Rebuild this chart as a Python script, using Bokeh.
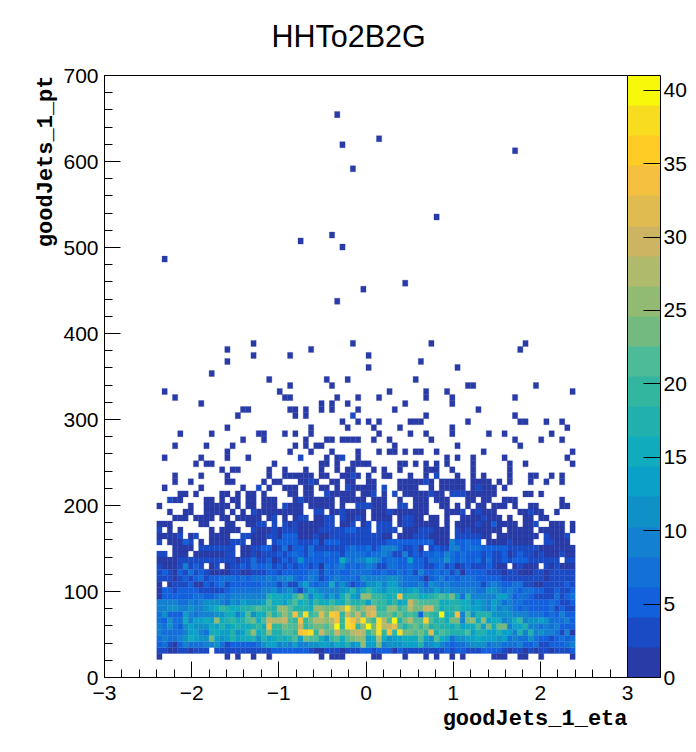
from bokeh.plotting import figure
from bokeh.models import (ColumnDataSource, LinearColorMapper, ColorBar, FixedTicker, Range1d, Title)
from bokeh.transform import transform
from bokeh.embed import file_html
from bokeh.resources import INLINE

TITLE = "HHTo2B2G"
X_TITLE = "goodJets_1_eta"
Y_TITLE = "goodJets_1_pt"
X_TICKS = [-3, -2, -1, 0, 1, 2, 3]
Y_TICKS = [0, 100, 200, 300, 400, 500, 600, 700]
Z_TICKS = [0, 5, 10, 15, 20, 25, 30, 35, 40]
Z_MAX = 41
ETA_START = -2.4
ETA_BIN = 0.06
PT_BIN = 7

PALETTE = ["#283BA6", "#1A4AC4", "#1260DC", "#1270D8", "#1480D0", "#0F91C8", "#0BA0C8", "#10ABBD",
           "#22B0AC", "#32B6A0", "#4DBA98", "#72BA80", "#92BA72", "#B0BA6C", "#CCB462", "#E0BC50",
           "#F5C040", "#FFCB25", "#F8DC20", "#F8F80A"]

# Dense rows: pt bin -> counts for eta columns 0..79
row_04 = [4,3,1,1,3,3,1,3,3,3,0,3,3,3,3,3,4,3,3,3,3,3,5,5,5,5,5,5,5,3,1,1,3,3,3,1,4,3,4,5, 5,4,5,5,5,1,5,3,3,3,3,3,3,3,4,5,3,5,5,3,3,3,5,5,5,5,3,1,3,3,1,3,1,3,3,1,3,3,3,5]
row_05 = [6,8,4,2,6,9,8,7,8,9,10,11,8,4,6,6,5,6,6,8,11,14,14,10,12,10,13,10,10,12,12,13,13,11,16,13,17,11,14,25, 14,14,23,10,11,12,12,14,14,14,17,10,11,13,10,7,6,8,7,10,12,11,11,8,9,9,8,7,7,9,5,6,8,4,3,6,5,5,8,9]
row_06 = [7,10,8,8,10,11,15,13,12,11,24,13,12,13,17,14,16,15,17,11,17,13,16,18,15,18,21,14,24,22,22,15,11,20,21,16,21,24,25,26, 14,15,27,15,12,13,13,15,15,15,21,14,12,22,15,14,8,11,11,14,13,15,14,13,14,11,13,8,9,8,8,12,7,6,6,4,6,7,6,8]
row_07 = [10,7,7,7,7,9,14,13,9,7,16,15,14,14,17,12,14,20,25,16,18,25,18,17,21,22,19,34,36,38,20,30,24,21,29,24,23,28,30,27, 20,24,37,20,33,20,38,24,23,22,24,20,31,18,22,20,17,18,17,22,14,17,17,13,13,17,13,14,10,17,10,17,10,11,10,9,8,4,9,2]
row_08 = [10,8,12,7,6,11,13,12,12,12,15,13,18,14,15,18,15,15,18,19,16,33,19,20,23,22,21,29,20,22,24,23,22,26,41,19,38,36,20,26, 40,24,37,28,30,32,21,18,22,23,19,23,17,19,18,17,15,19,13,15,15,22,14,24,15,24,24,10,13,13,18,10,10,8,9,8,9,5,6,6]
row_09 = [8,6,12,8,7,15,10,14,13,16,13,26,15,17,19,15,17,22,23,15,21,29,28,27,29,21,19,33,20,23,27,27,25,27,33,20,38,33,28,37, 24,20,37,28,22,39,18,24,27,22,21,35,21,17,19,15,24,24,10,23,25,15,25,13,16,16,9,12,15,20,10,12,12,13,12,7,7,8,9,5]
row_10 = [8,11,6,5,5,14,9,8,9,10,9,12,11,15,16,9,14,22,12,16,15,24,17,22,25,21,33,21,37,19,22,32,24,35,34,20,30,23,30,22, 30,32,21,21,23,20,24,19,21,20,5,21,19,18,40,16,18,33,10,21,12,17,18,18,11,11,12,11,10,10,9,8,7,8,6,8,5,10,6,5]
row_11 = [10,10,11,11,9,10,11,10,10,12,13,16,20,17,15,15,17,18,20,21,19,19,18,25,25,21,17,18,17,16,26,26,24,23,25,27,38,25,21,25, 29,30,19,19,26,26,20,21,27,24,23,30,30,21,16,17,18,20,15,16,13,14,12,10,13,10,12,9,8,6,8,6,5,6,6,7,4,6,3,4]
row_12 = [9,9,9,9,8,7,9,8,10,11,11,12,10,8,11,10,13,12,12,11,13,22,16,15,14,17,21,16,17,14,20,16,16,19,16,16,21,17,18,20, 14,22,20,19,16,19,14,15,30,23,21,22,22,22,15,16,18,17,16,15,12,13,11,10,13,12,8,9,8,8,6,5,6,5,5,8,5,3,4,6]
row_13 = [2,6,5,5,5,6,6,7,7,6,6,7,10,8,10,10,10,9,10,9,10,17,16,15,13,14,20,23,17,10,15,13,9,13,9,16,21,14,11,25, 25,20,20,17,16,17,34,17,19,19,15,15,18,19,22,20,24,16,8,17,9,10,10,9,9,14,13,9,6,8,8,5,4,3,3,3,8,4,5,7]
row_14 = [1,5,5,4,5,5,5,5,4,3,4,4,4,5,7,7,8,7,8,8,9,9,11,8,9,12,8,3,9,14,12,9,9,9,9,12,13,17,12,15, 19,16,13,12,16,15,13,11,14,15,12,9,9,13,10,12,10,10,9,9,9,8,8,11,11,9,8,9,8,5,8,8,5,5,4,4,5,3,4,5]
row_15 = [1,0,1,3,4,4,5,1,1,5,3,5,8,3,6,6,5,6,6,6,7,8,8,4,7,3,4,10,14,7,6,7,7,15,8,11,8,3,6,7, 12,12,13,10,13,13,10,8,8,7,9,5,11,10,8,9,8,8,7,8,7,7,4,7,10,8,6,5,8,7,4,4,1,1,3,4,3,3,5,3]
row_16 = [4,4,4,1,3,6,3,6,7,4,5,5,7,7,7,6,7,6,7,7,8,9,7,9,10,12,8,5,8,9,7,3,5,7,9,7,7,7,5,11, 10,10,9,10,12,12,9,8,8,7,6,1,5,8,9,6,7,5,7,7,8,5,5,6,5,5,4,3,3,4,3,3,3,3,1,3,3,3,3,3]
row_17 = [3,5,3,1,5,3,7,4,5,3,1,1,1,1,3,3,1,1,3,3,4,5,6,3,6,6,5,5,5,7,8,3,7,5,7,5,5,7,8,7, 7,5,6,7,5,6,7,5,7,4,9,6,6,7,5,8,4,8,1,5,6,5,5,4,3,3,1,3,3,1,1,1,3,3,1,3,4,4,3,3]
row_18 = [4,1,1,1,3,9,3,5,4,0,1,3,0,1,3,4,5,4,7,5,5,7,3,5,4,5,3,5,5,3,5,1,7,5,7,9,5,7,5,7, 9,8,4,3,7,7,5,6,8,5,5,4,3,5,7,4,5,1,4,5,4,4,3,5,4,1,1,0,1,3,1,1,1,0,3,1,3,1,1,1]
row_19 = [1,1,1,1,3,3,3,3,4,4,3,4,4,4,3,1,3,3,7,4,3,5,1,3,5,3,6,12,5,6,6,6,6,6,6,16,10,8,10,10, 13,12,9,6,8,8,5,6,13,6,5,4,7,8,7,12,7,6,7,5,5,7,4,8,4,4,6,3,6,6,5,4,3,3,3,3,3,0,3,3]
row_20 = [3,3,0,1,1,1,0,1,1,1,1,1,1,4,4,0,1,1,4,1,4,4,3,5,3,5,7,6,3,7,5,5,7,6,6,3,8,7,8,8, 6,8,7,9,7,4,4,10,4,5,4,5,6,8,5,10,8,5,8,5,6,5,4,6,4,3,5,1,4,5,4,4,1,3,1,1,1,3,1,1]
row_21 = [0,0,0,1,1,1,1,0,3,3,4,3,3,4,4,0,1,1,3,3,6,5,1,3,7,1,5,5,3,8,4,4,4,4,4,3,6,7,6,6, 8,3,6,9,9,9,5,3,4,5,1,0,3,6,3,3,10,9,5,7,8,8,5,5,6,5,5,3,3,4,3,3,3,1,1,1,1,1,1,1]
row_22 = [3,0,1,1,1,5,4,0,1,0,1,1,1,1,3,3,4,0,1,1,1,0,3,5,5,5,5,4,4,3,6,1,6,6,5,4,4,4,4,4, 4,4,3,3,5,6,6,6,6,5,5,5,5,1,1,1,10,5,6,7,5,5,0,1,1,1,1,3,1,1,1,1,0,0,3,4,1,1,1,0]
row_23 = [1,1,1,1,3,0,1,3,0,0,1,1,1,1,0,0,3,3,1,1,1,3,3,1,5,5,5,1,1,1,3,1,1,4,4,4,3,3,3,3, 3,3,3,1,1,0,1,1,1,3,3,3,1,1,1,1,0,3,3,4,3,3,1,1,0,1,1,1,1,1,1,1,1,0,4,1,1,1,3,0]
row_24 = [3,0,1,0,1,0,0,0,0,0,1,0,1,1,1,1,0,0,3,1,1,1,3,1,3,4,4,1,1,1,1,3,3,4,4,4,5,5,4,4, 3,0,4,4,3,4,0,1,1,1,3,4,3,1,1,1,0,3,1,3,1,1,1,1,1,1,0,1,1,1,1,1,0,1,1,1,1,1,0,1]
row_25 = [1,1,1,0,0,0,0,0,1,1,0,0,0,1,1,0,0,1,1,3,4,0,4,0,3,1,3,1,1,1,1,1,3,3,0,1,1,3,0,1, 3,0,4,4,4,0,1,3,3,1,1,1,1,1,0,1,0,1,1,1,1,3,1,1,5,1,1,1,1,0,1,1,4,0,0,1,1,1,0,1]
DENSE = {4: row_04, 5: row_05, 6: row_06, 7: row_07, 8: row_08, 9: row_09, 10: row_10, 11: row_11,
         12: row_12, 13: row_13, 14: row_14, 15: row_15, 16: row_16, 17: row_17, 18: row_18, 19: row_19,
         20: row_20, 21: row_21, 22: row_22, 23: row_23, 24: row_24, 25: row_25}

# Sparse rows: pt bin -> eta columns holding one entry
SINGLES = {
 3: [0,13,15,18,21,31,33,34,35,41,42,47,51,53,56,58,64,65,66,69,70,73,79],
 26: [3,4,5,7,8,9,10,12,13,15,16,17,18,19,21,24,26,30,31,36,37,39,41,42,43,44,46,49,50,52,53,55,58,59,60,61,63,64,65,67,70,71,73,74],
 27: [2,5,6,9,10,11,12,14,16,19,20,21,22,23,24,25,26,27,33,34,36,37,38,39,41,42,43,45,46,47,48,49,50,51,55,56,57,60,62,63,64,69,70,72,73,76],
 28: [0,6,9,10,11,12,13,15,17,18,20,21,22,25,26,27,29,30,31,32,33,35,40,41,42,43,49,50,51,54,55,57,59,61,62,64,65,66,68,71,72,77,78],
 29: [3,4,9,10,12,14,15,17,18,20,21,22,26,28,29,30,31,32,33,35,36,37,38,39,41,42,43,46,49,50,51,53,54,55,59,60,62,63,66,67,68,77],
 30: [4,5,7,12,13,15,17,18,20,25,26,28,29,33,34,35,36,37,39,40,43,47,48,49,50,51,53,54,59,60,61,62,63,64,70,71,73],
 31: [1,8,16,21,24,25,26,28,29,31,32,34,37,38,39,40,41,46,47,48,49,52,54,55,56,57,58,60,62,63,64,66],
 32: [3,6,13,14,20,22,23,27,28,30,33,34,36,37,40,41,46,47,48,49,50,52,54,55,56,57,58,60,61,62,63,65,67,71,74,77],
 33: [3,8,13,21,24,25,26,27,28,29,31,32,35,36,38,40,43,44,48,51,57,60,62,67,71,72,75,77],
 34: [12,14,15,21,24,28,31,34,36,37,41,43,46,51,52,53,56,60,67],
 35: [7,9,10,22,31,32,34,37,38,39,40,46,47,49,51,53,55,60,67,70,79],
 36: [1,8,13,17,32,34,38,55,57,60,66,78],
 37: [13,25,29,33,38,42,44,45,47,49,50,53,62,79],
 38: [3,9,14,26,28,30,31,45,57,69],
 39: [16,20,28,32,33,35,36,37,38,41,44,52,68,73,77],
 40: [4,10,19,20,24,26,29,42,48,51,56,63,66,75],
 41: [13,29,36,41,46,56,78],
 42: [35,38,40,42,48,49,50,59,69,70,74,77],
 43: [15,26,28,51,68],
 44: [16,17,25,26,28,31,33,38,45,61],
 45: [8,31,33,36,47,56],
 46: [3,24,25,34,38,42,51,56,68],
 47: [1,23,44,51,55,79],
 48: [25,33,59,60,72],
 49: [21,32,36,49],
 50: [10],
 51: [40,57],
 52: [13,50],
 53: [18,25,40],
 54: [13,29,69],
 55: [18,37,52,70],
 62: [34],
 64: [39],
 65: [47],
 69: [1],
 71: [35],
 72: [27],
 73: [33],
 76: [53],
 84: [37],
 87: [68],
 88: [35],
 89: [42],
 93: [34],
}
# Sparse rows: pt bin -> eta columns holding about three entries
TRIPLES = {
 26: [22,27,28,32,33,35,38,47,48,62],
 27: [18,30,31,35,44,58,61,71],
 28: [24,38,39,40,46,47],
 29: [2,27],
 30: [32,41,45,52,56,57,58],
 31: [19,36,43,61],
 32: [29,51],
 33: [37,53],
 36: [27,35],
 43: [37],
}

xs0, xs1, ys0, ys1, vals = [], [], [], [], []
def put(row, col, v):
    if v <= 0:
        return
    xs0.append(ETA_START + col * ETA_BIN)
    xs1.append(ETA_START + (col + 1) * ETA_BIN)
    ys0.append(row * PT_BIN)
    ys1.append((row + 1) * PT_BIN)
    vals.append(v)

for r, cells in DENSE.items():
    for c, v in enumerate(cells):
        put(r, c, v)
for r, cols in SINGLES.items():
    for c in cols:
        put(r, c, 1)
for r, cols in TRIPLES.items():
    for c in cols:
        put(r, c, 3)

src = ColumnDataSource(dict(left=xs0, right=xs1, bottom=ys0, top=ys1, v=vals))
mapper = LinearColorMapper(palette=PALETTE, low=0, high=Z_MAX)

p = figure(width=696, height=752, output_backend="svg", toolbar_location=None,
           x_range=Range1d(-3, 3), y_range=Range1d(0, 700),
           min_border_left=104, min_border_right=69, min_border_top=75, min_border_bottom=75,
           background_fill_color="white", border_fill_color="white")
p.grid.visible = False
p.quad(left="left", right="right", bottom="bottom", top="top", source=src,
       fill_color=transform("v", mapper), line_color=transform("v", mapper), line_width=0.3)

p.outline_line_color = "black"
p.outline_line_width = 1
p.outline_line_alpha = 1

for ax in (p.xaxis[0], p.yaxis[0]):
    ax.axis_line_color = "black"
    ax.major_tick_line_color = "black"
    ax.minor_tick_line_color = "black"
    ax.major_tick_in = 16
    ax.major_tick_out = 0
    ax.minor_tick_in = 8
    ax.minor_tick_out = 0
    ax.major_label_text_font = "Liberation Sans"
    ax.major_label_text_font_size = "21px"
    ax.major_label_text_color = "black"

p.xaxis[0].ticker = FixedTicker(ticks=X_TICKS, minor_ticks=[t / 5 - 3 for t in range(31)])
p.yaxis[0].ticker = FixedTicker(ticks=Y_TICKS, minor_ticks=[t * 20 for t in range(36)])
p.xaxis[0].major_label_standoff = 8
p.yaxis[0].major_label_standoff = 6

cb = ColorBar(color_mapper=mapper, ticker=FixedTicker(ticks=Z_TICKS), width=33, padding=0, margin=3,
              major_tick_in=17, major_tick_line_color="black", minor_tick_line_color=None,
              bar_line_color="black", major_label_text_font="Liberation Sans",
              major_label_text_font_size="21px", major_label_text_color="black", label_standoff=3,
              border_line_color=None, background_fill_color=None)
p.add_layout(cb, "right")

# A blank title just above the frame lifts the real title to its place
p.add_layout(Title(text=" ", standoff=0, text_font_size="12px"), "above")
p.add_layout(Title(text=TITLE, align="left", offset=167, standoff=10, vertical_align="top",
                   text_font="Liberation Sans", text_font_size="30.5px", text_font_style="normal",
                   text_color="black"), "above")

# Axis titles sit flush with the far end of their axis
p.add_layout(Title(text=X_TITLE, align="right", standoff=4, text_font="Liberation Mono",
                   text_font_style="bold", text_font_size="22px", text_color="black"), "below")
p.add_layout(Title(text=Y_TITLE, align="right", standoff=4, text_font="Liberation Mono",
                   text_font_style="bold", text_font_size="22px", text_color="black"), "left")

open("out.html", "w").write(file_html(p, INLINE))
